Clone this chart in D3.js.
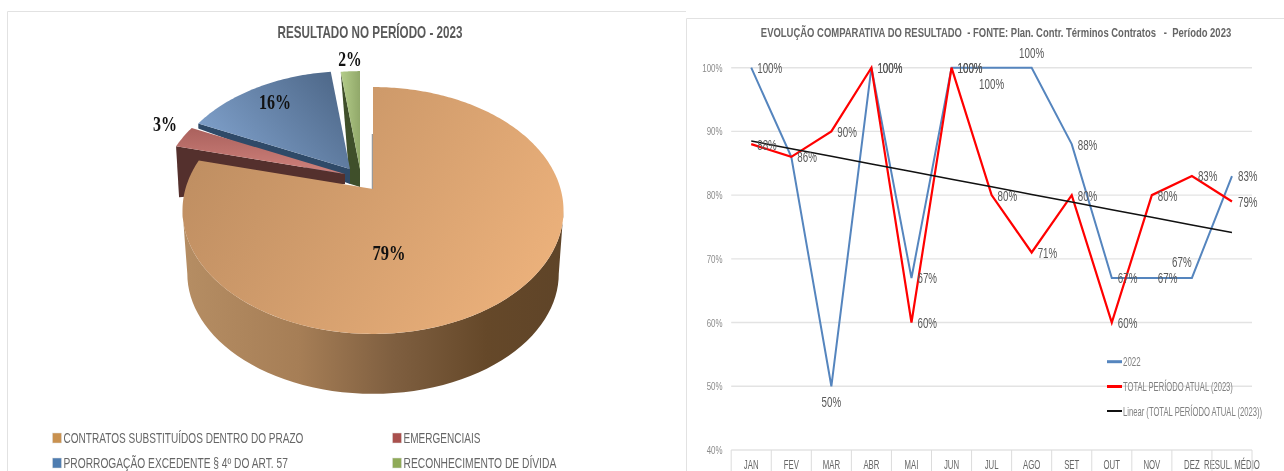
<!DOCTYPE html>
<html><head><meta charset="utf-8">
<script src="https://cdn.jsdelivr.net/npm/d3@7"></script>
<style>
html,body{margin:0;padding:0;background:#fff;overflow:hidden}
svg{display:block;filter:blur(0.35px)}
text{font-family:"Liberation Sans",sans-serif}
</style></head><body>
<svg id="c" width="1284" height="471" viewBox="0 0 1284 471"></svg>
<script>
// ---------- data ----------
const pieTitle = "RESULTADO NO PERÍODO - 2023";
const pieCategories = ["CONTRATOS SUBSTITUÍDOS DENTRO DO PRAZO","EMERGENCIAIS","PRORROGAÇÃO EXCEDENTE § 4º DO ART. 57","RECONHECIMENTO DE DÍVIDA"];
const pieValues = [79,3,16,2];
const lineTitle = "EVOLUÇÃO COMPARATIVA DO RESULTADO  - FONTE: Plan. Contr. Términos Contratos   -  Período 2023";
const months = ["JAN","FEV","MAR","ABR","MAI","JUN","JUL","AGO","SET","OUT","NOV","DEZ","RESUL. MÉDIO"];
const values2022 = [100,86,50,100,67,100,100,100,88,67,67,67,83];
const values2023 = [88,86,90,100,60,100,80,71,80,60,80,83,79];
const yTicks = [40,50,60,70,80,90,100];
const seriesNames = ["2022","TOTAL PERÍODO ATUAL (2023)","Linear (TOTAL PERÍODO ATUAL (2023))"];

// ---------- helpers ----------
const svg = d3.select("#c");
const defs = svg.append("defs");
function grad(id,x1,y1,x2,y2,stops){
  const g=defs.append("linearGradient").attr("id",id).attr("gradientUnits","userSpaceOnUse")
    .attr("x1",x1).attr("y1",y1).attr("x2",x2).attr("y2",y2);
  stops.forEach(s=>g.append("stop").attr("offset",s[0]).attr("stop-color",s[1]));
}
// horizontally condense a text around its anchor x, either by a factor or to a target width
function squeeze(sel,opt){
  sel.each(function(d,i){
    const t=d3.select(this), x0=+t.attr("x")||0, w=this.getComputedTextLength();
    const f=typeof opt==="function"?opt(d,i):opt;
    const s=f>2?f/w:f;
    t.attr("transform",`translate(${x0},0) scale(${s},1) translate(${-x0},0)`);
  });
}
grad("gMain",200,100,540,310,[[0,"#BC8C60"],[1,"#EDB27C"]]);
grad("gWall",186,0,562,0,[[0,"#B58D63"],[0.3,"#A67E56"],[0.55,"#7F5F40"],[0.8,"#654829"],[1,"#5F4428"]]);
grad("gBlue",335,75,230,165,[[0,"#4E6889"],[1,"#7E9FC9"]]);
grad("gRed",260,125,260,170,[[0,"#A85F5B"],[1,"#CC7F79"]]);
grad("gGreen",342,0,361,0,[[0,"#B2CB88"],[1,"#8FA668"]]);

// panels
svg.append("path").attr("d","M7.5,471V11.5H686").attr("fill","none").attr("stroke","#e2e2e2");
svg.append("path").attr("d","M686.5,471V18.5H1284").attr("fill","none").attr("stroke","#e2e2e2");

// ---------- 3D pie ----------
const pieG = svg.append("g");
const arcs = d3.pie().sort(null).value(d=>d)(pieValues);
const K=-0.174, RX=187.6, RY=119.7;
function rim(theta,s){ // pie angle -> projected offset from the slice apex
  const u=Math.sin(theta), v=-Math.cos(theta), w=1+K*v;
  return [s*RX*u/w, s*RY*v/w];
}
const apex = [[373,189],[345,174],[350,169],[360,169]];
const sliceScale = [1,0.97,0.96,0.96];
const fills = ["url(#gMain)","url(#gRed)","url(#gBlue)","url(#gGreen)"];
const wallDark = ["#000","#54302D","#2F4A68","#3F4F2A"];
const wallDepth = [
  null,
  {outer:[3,51],inner:10},
  {outer:[0,5],inner:15},
  {outer:[9,112],inner:18}
];
const line = d3.line();
function facePts(i){
  const a=arcs[i], n=Math.max(12,Math.round((a.endAngle-a.startAngle)*60));
  const p=[apex[i]];
  d3.range(n+1).forEach(k=>{
    const t=a.startAngle+(a.endAngle-a.startAngle)*k/n, r=rim(t,sliceScale[i]);
    p.push([apex[i][0]+r[0],apex[i][1]+r[1]]);
  });
  return p;
}
// small slices, back to front: green, blue, red
[3,2,1].forEach(i=>{
  const a=arcs[i], s=sliceScale[i], ap=apex[i], d=wallDepth[i];
  const e=rim(a.startAngle,s);
  const out=[ap[0]+e[0],ap[1]+e[1]];
  pieG.append("path")
    .attr("d",line([out,ap,[ap[0],ap[1]+d.inner],[out[0]+d.outer[0],out[1]+d.outer[1]]])+"Z")
    .attr("fill",wallDark[i]);
  pieG.append("path").attr("d",line(facePts(i))+"Z").attr("fill",fills[i]);
});
// main slice: side wall then top face
const cx0=374.5, cy0=210.5, wallS=0.975, wallD=63;
const wallTop=d3.range(0,61).map(k=>{
  const t=(100+160*k/60)*Math.PI/180, r=rim(t,1);
  return [apex[0][0]+r[0],apex[0][1]+r[1]];
});
const wallBottom=wallTop.map(p=>[cx0+(p[0]-cx0)*wallS, cy0+(p[1]-cy0)*wallS+wallD]).reverse();
pieG.append("path").attr("d",line(wallTop.concat(wallBottom))+"Z").attr("fill","url(#gWall)");
pieG.append("path").attr("d",line([[372.5,134],[372.5,189]])).attr("stroke","#9a9a9a").attr("stroke-width",1.5);
pieG.append("path").attr("d",line(facePts(0))+"Z").attr("fill",fills[0]);

// pie title, labels, legend
svg.append("text").attr("x",370).attr("y",38.5).attr("text-anchor","middle")
  .attr("font-size",16).attr("font-weight",700).attr("fill","#595959").text(pieTitle).call(squeeze,185);
const pieLabelPos=[[389,260.5],[165,131.5],[275,109],[350,66.5]];
const pieLabelW=[33,24,32,23.5];
svg.append("g").selectAll("text").data(pieValues).join("text")
  .attr("x",(d,i)=>pieLabelPos[i][0]).attr("y",(d,i)=>pieLabelPos[i][1])
  .attr("text-anchor","middle").attr("font-size",22).attr("font-weight",700).attr("fill","#111")
  .style("font-family","'Liberation Serif',serif").text(d=>d+"%")
  .call(squeeze,(d,i)=>pieLabelW[i]);
const legPos=[[52.5,438,240],[392.5,438,77],[52.5,463,224.5],[392.5,463,153]];
const legFill=["#C9914F","#A9504D","#4F7DB0","#8FAA58"];
const leg=svg.append("g").selectAll("g").data(pieCategories).join("g")
  .attr("transform",(d,i)=>`translate(${legPos[i][0]},${legPos[i][1]})`);
leg.append("rect").attr("x",0).attr("y",-5).attr("width",9).attr("height",10).attr("fill",(d,i)=>legFill[i]).attr("stroke","#ddd").attr("stroke-width",.5);
leg.append("text").attr("x",11).attr("y",5).attr("font-size",14).attr("fill","#666").text(d=>d)
  .call(squeeze,(d,i)=>legPos[i][2]);

// ---------- line chart ----------
const x=d3.scaleBand().domain(months).range([731.2,1252]);
const y=d3.scaleLinear().domain([40,100]).range([450,67.7]);
const cxm=m=>x(m)+x.bandwidth()/2;
const g=svg.append("g");
g.append("g").selectAll("line").data(yTicks).join("line")
  .attr("x1",731.2).attr("x2",1252).attr("y1",d=>y(d)).attr("y2",d=>y(d))
  .attr("stroke","#e3e3e3").attr("stroke-width",1.4);
const yAxis=g.append("g").attr("transform","translate(726,0)")
  .call(d3.axisLeft(y).tickValues(yTicks).tickSize(0).tickPadding(3.5).tickFormat(d=>d+"%"));
yAxis.attr("font-family",null).select(".domain").remove();
yAxis.selectAll("text").attr("font-size",11).attr("fill","#8c8c8c").call(squeeze,0.72);
const xAxis=g.append("g").attr("transform","translate(0,450)")
  .call(d3.axisBottom(x).tickSize(0).tickPadding(10.5));
xAxis.attr("font-family",null).select(".domain").remove();
xAxis.selectAll("text").attr("font-size",12).attr("fill","#666").call(squeeze,0.65);
g.append("g").selectAll("line").data(months.concat(["end"])).join("line")
  .attr("x1",(d,i)=>x.range()[0]+i*x.bandwidth()).attr("x2",(d,i)=>x.range()[0]+i*x.bandwidth())
  .attr("y1",450).attr("y2",471).attr("stroke","#dcdcdc");

const lineGen=d3.line().x((d,i)=>cxm(months[i])).y(d=>y(d));
g.append("path").attr("d",lineGen(values2022)).attr("fill","none").attr("stroke","#5585BE").attr("stroke-width",2);
g.append("path").attr("d",lineGen(values2023)).attr("fill","none").attr("stroke","#FF0000").attr("stroke-width",2.2).attr("stroke-linejoin","miter");
// least-squares trend of the 2023 series
const mx=d3.mean(values2023,(d,i)=>i), my=d3.mean(values2023);
const slope=d3.sum(values2023,(d,i)=>(i-mx)*(d-my))/d3.sum(values2023,(d,i)=>(i-mx)*(i-mx));
const trend=months.map((m,i)=>my+slope*(i-mx));
g.append("path").attr("d",lineGen(trend)).attr("fill","none").attr("stroke","#111").attr("stroke-width",1.5);

// data labels: r = right of point, a = above, b = below, l = above-left
const pos2022=["r",null,"b","r","r","r","b","a","r","r","r","l","r"];
const pos2023=["r","r","r","r","r","r","r","r","r","r","r","r","r"];
function labels(vals,pos){
  g.append("g").selectAll("text").data(vals.map((v,i)=>({v,i,p:pos[i]})).filter(d=>d.p)).join("text")
    .attr("x",d=>{const c=cxm(months[d.i]);return d.p==="r"?c+6:d.p==="l"?c-10:c;})
    .attr("y",d=>{const c=y(d.v);return (d.p==="a"?c-15.5:d.p==="b"?c+15.5:d.p==="l"?c-16.5:c)+0.5;})
    .attr("dy","0.35em").attr("text-anchor",d=>d.p==="r"?"start":"middle")
    .attr("font-size",14).attr("fill","#595959").text(d=>d.v+"%").call(squeeze,0.7);
}
labels(values2022,pos2022);
labels(values2023,pos2023);

// line chart title and legend
svg.append("text").attr("x",996).attr("y",37.5).attr("text-anchor","middle")
  .attr("font-size",13).attr("font-weight",700).attr("fill","#666").attr("xml:space","preserve").text(lineTitle).call(squeeze,471);
const lgY=[361.7,386.5,411], lgC=["#5585BE","#FF0000","#111"], lgW=[3,3,2], lgL=[17.7,110,139.4];
const lg=svg.append("g").selectAll("g").data(seriesNames).join("g")
  .attr("transform",(d,i)=>`translate(1107,${lgY[i]})`);
lg.append("line").attr("x1",0).attr("x2",15).attr("stroke",(d,i)=>lgC[i]).attr("stroke-width",(d,i)=>lgW[i]);
lg.append("text").attr("x",16).attr("y",4.5).attr("font-size",12).attr("fill","#808080").text(d=>d)
  .call(squeeze,(d,i)=>lgL[i]);
</script>
</body></html>
